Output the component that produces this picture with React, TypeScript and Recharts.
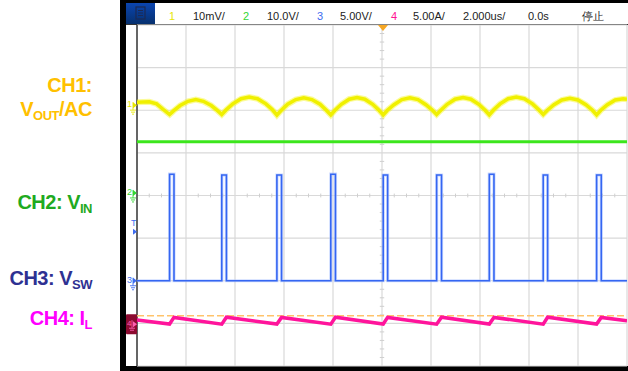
import React from 'react';
import { ComposedChart, Line, XAxis, YAxis, CartesianGrid, ReferenceLine, ReferenceDot } from 'recharts';

// time base 2 us/div, ten divisions across, eight down
const TIME_TICKS = [-10, -8, -6, -4, -2, 0, 2, 4, 6, 8, 10];
const DIV_TICKS = [-4, -3, -2, -1, 0, 1, 2, 3, 4];

// per channel: units per division and ground position (in divisions from centre)
const CH1_SCALE = 10; // mV/div
const CH1_GROUND = 2.12;
const CH2_SCALE = 10; // V/div
const CH2_GROUND = 0.06;
const CH3_SCALE = 5; // V/div
const CH3_GROUND = -2.0;
const CH4_SCALE = 5; // A/div
const CH4_GROUND = -3.02;

// switch node edges (us) and on-state level (V)
const SW_RISE = [-8.67, -6.54, -4.29, -2.09, 0.05, 2.23, 4.38, 6.58, 8.76];
const SW_FALL = [-8.49, -6.35, -4.1, -1.9, 0.23, 2.43, 4.57, 6.76, 8.95];
const SW_HIGH = [12.5, 12.4, 12.4, 12.5, 12.4, 12.4, 12.5, 12.4, 12.4];
const SW_TRIGGER = 5.75;

// inductor current at the start and end of each on-time (A)
const IL_VALLEY = [0.02, 0.0, 0.02, 0.0, 0.02, 0.0, 0.02, 0.0, 0.02];
const IL_PEAK = [0.8, 0.82, 0.8, 0.82, 0.8, 0.82, 0.8, 0.82, 0.8];
const IL_START = 0.5;
const IL_END = 0.42;
const IL_CURSOR = 1.0;

const VIN_LEVEL = 12.0;

// output ripple, AC coupled (t in us, mV)
const CH1_POINTS: [number, number][] = [
  [-10, 0.7], [-9.5, 0.8], [-9.2, 0.3], [-8.95, -0.9], [-8.67, -2.2],
  [-8.5, -1.3], [-8.24, -0.1], [-7.92, 0.9], [-7.6, 1.3], [-7.29, 0.9], [-6.97, -0.1], [-6.71, -1.3], [-6.54, -2.2],
  [-6.36, -1.1], [-6.09, 0.3], [-5.75, 1.5], [-5.42, 1.9], [-5.08, 1.5], [-4.74, 0.3], [-4.47, -1.1], [-4.29, -2.35],
  [-4.11, -1.2], [-3.85, 0.2], [-3.52, 1.3], [-3.19, 1.7], [-2.86, 1.3], [-2.53, 0.2], [-2.27, -1.2], [-2.09, -2.3],
  [-1.92, -1.2], [-1.66, 0.2], [-1.34, 1.4], [-1.02, 1.8], [-0.7, 1.4], [-0.38, 0.2], [-0.12, -1.2], [0.05, -2.3],
  [0.22, -1.2], [0.49, 0.1], [0.81, 1.3], [1.14, 1.7], [1.47, 1.3], [1.79, 0.1], [2.06, -1.2], [2.23, -2.2],
  [2.4, -1.2], [2.66, 0.2], [2.98, 1.4], [3.31, 1.8], [3.63, 1.4], [3.95, 0.2], [4.21, -1.2], [4.38, -2.3],
  [4.56, -1.1], [4.82, 0.3], [5.15, 1.5], [5.48, 1.9], [5.81, 1.5], [6.14, 0.3], [6.4, -1.1], [6.58, -2.2],
  [6.75, -1.2], [7.02, 0.1], [7.34, 1.2], [7.67, 1.6], [8.0, 1.2], [8.32, 0.1], [8.59, -1.2], [8.76, -2.3],
  [8.93, -1.2], [9.2, 0.1], [9.52, 1.2], [9.85, 1.5], [10, 1.4],
];

const HEADER = [
  { x: 169, text: '1', color: '#e6e600' },
  { x: 193, text: '10mV/', color: '#222' },
  { x: 243, text: '2', color: '#33d633' },
  { x: 267, text: '10.0V/', color: '#222' },
  { x: 317, text: '3', color: '#3d6cf0' },
  { x: 340, text: '5.00V/', color: '#222' },
  { x: 391, text: '4', color: '#ff1493' },
  { x: 413, text: '5.00A/', color: '#222' },
  { x: 463, text: '2.000us/', color: '#222' },
  { x: 528, text: '0.0s', color: '#222' },
  { x: 582, text: '停止', color: '#222' },
];

const ch1Data = CH1_POINTS.map(([t, v]) => ({ t, v }));
const ch2Data = [{ t: -10, v: VIN_LEVEL }, { t: 10, v: VIN_LEVEL }];

const ch3Data = [{ t: -10, v: 0 }];
SW_RISE.forEach((r, i) => {
  ch3Data.push({ t: r, v: 0 }, { t: r, v: SW_HIGH[i] }, { t: SW_FALL[i], v: SW_HIGH[i] }, { t: SW_FALL[i], v: 0 });
});
ch3Data.push({ t: 10, v: 0 });

const ch4Data = [{ t: -10, v: IL_START }];
SW_RISE.forEach((r, i) => {
  ch4Data.push({ t: r, v: IL_VALLEY[i] }, { t: SW_FALL[i], v: IL_PEAK[i] });
});
ch4Data.push({ t: 10, v: IL_END });

const domainOf = (scale: number, ground: number) => [(-4 - ground) * scale, (4 - ground) * scale];

const minorX = Array.from({ length: 41 }, (_, i) => -10 + i * 0.5).filter(t => t % 2 !== 0);
const minorY = Array.from({ length: 41 }, (_, i) => -4 + i * 0.2).filter(d => Math.abs(d - Math.round(d)) > 0.01);

const groundMarker = (label: string, color: string) => (props: any) => {
  const { cx, cy } = props;
  const x = cx - 10;
  return (
    <g>
      <text x={x} y={cy + 2} fontSize={9} fill={color} fontFamily="Liberation Sans, Arial">{label}</text>
      <path d={`M${x + 6} ${cy - 3} V${cy + 5} M${x + 3} ${cy + 5} H${x + 9} M${x + 4} ${cy + 7} H${x + 8} M${x + 5} ${cy + 9} H${x + 7}`} stroke={color} strokeWidth={0.9} fill="none" />
      <path d={`M${x + 6} ${cy} H${cx - 3}`} stroke={color} strokeWidth={0.9} />
      <path d={`M${cx - 4} ${cy - 3} L${cx} ${cy} L${cx - 4} ${cy + 3} Z`} fill={color} />
    </g>
  );
};

const ch4Marker = (props: any) => {
  const { cx, cy } = props;
  const x = cx - 11;
  return (
    <g>
      <rect x={x} y={cy - 10} width={11} height={20} fill="#8c0a30" rx={1} />
      <text x={x + 1} y={cy + 2} fontSize={8} fill="#ff5fb0" fontFamily="Liberation Sans, Arial">4</text>
      <path d={`M${x + 6} ${cy - 4} V${cy + 4} M${x + 3} ${cy + 4} H${x + 9} M${x + 4} ${cy + 6} H${x + 8}`} stroke="#ff5fb0" strokeWidth={0.9} />
      <path d={`M${cx - 4} ${cy - 3} L${cx} ${cy} L${cx - 4} ${cy + 3} Z`} fill="#ff5fb0" />
    </g>
  );
};

const triggerLevel = (props: any) => {
  const { cx, cy } = props;
  return (
    <g>
      <text x={cx - 6} y={cy - 6} fontSize={9} fill="#3d6cf0" fontFamily="Liberation Sans, Arial">T</text>
      <path d={`M${cx - 4} ${cy - 3} L${cx} ${cy} L${cx - 4} ${cy + 3} Z`} fill="#3d6cf0" />
    </g>
  );
};

const triggerTime = (props: any) => {
  const { cx, cy } = props;
  return <path d={`M${cx - 5} ${cy} L${cx + 5} ${cy} L${cx} ${cy + 6} Z`} fill="#f5a623" />;
};

const labelFont = { fontFamily: 'Liberation Sans, Arial, sans-serif', fontWeight: 700 } as const;

export default function App() {
  return (
    <div style={{ position: 'absolute', left: 0, top: 0, width: 628, height: 371, background: '#fff' }}>
      <svg width={628} height={371} style={{ position: 'absolute', left: 0, top: 0 }}>
        <rect x={120} y={0} width={508} height={371} fill="#000" />
        <rect x={126} y={3} width={502} height={363} fill="#fff" />
        <defs>
          <linearGradient id="menuBtn" x1="0" y1="0" x2="0" y2="1">
            <stop offset="0%" stopColor="#0b45b0" />
            <stop offset="100%" stopColor="#06306e" />
          </linearGradient>
        </defs>
        <rect x={126} y={3} width={29} height={21} fill="url(#menuBtn)" />
        <rect x={136} y={7} width={9} height={12} fill="none" stroke="#1b2a55" strokeWidth={1.2} />
        <path d="M138 10.5 H143 M138 13 H143 M138 15.5 H143" stroke="#1b2a55" strokeWidth={1} />
        <line x1={126} y1={24.5} x2={628} y2={24.5} stroke="#333" strokeWidth={1} />
        {HEADER.map(h => (
          <text key={h.x} x={h.x} y={20} fontSize={11} fill={h.color} fontFamily="Liberation Sans, Arial, sans-serif">{h.text}</text>
        ))}

        <text x={92} y={92} textAnchor="end" fontSize={20} fill="#ffc000" letterSpacing={-0.5} {...labelFont}>CH1:</text>
        <text x={92} y={116} textAnchor="end" fontSize={20} fill="#ffc000" letterSpacing={-0.5} {...labelFont}>
          V<tspan fontSize={13} dy={4}>OUT</tspan><tspan dy={-4}>/AC</tspan>
        </text>
        <text x={92} y={209} textAnchor="end" fontSize={20} fill="#1faa1f" letterSpacing={-0.5} {...labelFont}>
          CH2: V<tspan fontSize={13} dy={4}>IN</tspan>
        </text>
        <text x={92} y={285} textAnchor="end" fontSize={20} fill="#2e3192" letterSpacing={-0.5} {...labelFont}>
          CH3: V<tspan fontSize={13} dy={4}>SW</tspan>
        </text>
        <text x={92} y={325} textAnchor="end" fontSize={20} fill="#ff00ff" letterSpacing={-0.5} {...labelFont}>
          CH4: I<tspan fontSize={13} dy={4}>L</tspan>
        </text>
      </svg>

      <div style={{ position: 'absolute', left: 0, top: 0 }}>
        <ComposedChart width={628} height={371} margin={{ top: 25, right: 1, bottom: 5, left: 137 }}>
          <XAxis type="number" dataKey="t" domain={[-10, 10]} ticks={TIME_TICKS} hide allowDataOverflow />
          <YAxis yAxisId="div" type="number" domain={[-4, 4]} ticks={DIV_TICKS} hide allowDataOverflow />
          <YAxis yAxisId="ch1" type="number" domain={domainOf(CH1_SCALE, CH1_GROUND)} hide allowDataOverflow />
          <YAxis yAxisId="ch2" type="number" domain={domainOf(CH2_SCALE, CH2_GROUND)} hide allowDataOverflow />
          <YAxis yAxisId="ch3" type="number" domain={domainOf(CH3_SCALE, CH3_GROUND)} hide allowDataOverflow />
          <YAxis yAxisId="ch4" type="number" domain={domainOf(CH4_SCALE, CH4_GROUND)} hide allowDataOverflow />
          <CartesianGrid yAxisId="div" stroke="#d9d9d9" strokeWidth={1.2} />

          {minorX.map(t => (
            <ReferenceLine key={`mx${t}`} yAxisId="div" segment={[{ x: t, y: -0.045 }, { x: t, y: 0.045 }]} stroke="#cfcfcf" />
          ))}
          {minorY.map(d => (
            <ReferenceLine key={`my${d}`} yAxisId="div" segment={[{ x: -0.09, y: d }, { x: 0.09, y: d }]} stroke="#cfcfcf" />
          ))}
          <ReferenceLine yAxisId="div" x={-10} stroke="#3a3a3a" strokeWidth={1.5} />

          <ReferenceLine yAxisId="ch4" y={IL_CURSOR} stroke="#ffc36b" strokeWidth={1.4} strokeDasharray="7 3" />

          <Line yAxisId="ch2" data={ch2Data} dataKey="v" type="linear" stroke="#3ce61c" strokeWidth={3} dot={false} isAnimationActive={false} />
          <Line yAxisId="ch1" data={ch1Data} dataKey="v" type="linear" stroke="#f5f500" strokeOpacity={0.4} strokeWidth={6} dot={false} isAnimationActive={false} />
          <Line yAxisId="ch1" data={ch1Data} dataKey="v" type="linear" stroke="#f0f000" strokeWidth={3.5} dot={false} isAnimationActive={false} />
          <Line yAxisId="ch3" data={ch3Data} dataKey="v" type="linear" stroke="#a8c0ff" strokeWidth={3.2} strokeOpacity={0.55} dot={false} isAnimationActive={false} />
          <Line yAxisId="ch3" data={ch3Data} dataKey="v" type="linear" stroke="#3566f2" strokeWidth={1.6} dot={false} isAnimationActive={false} />
          <Line yAxisId="ch4" data={ch4Data} dataKey="v" type="linear" stroke="#ff149b" strokeWidth={3.5} dot={false} isAnimationActive={false} />

          <ReferenceDot yAxisId="ch1" x={-10} y={0} shape={groundMarker('1', '#e6e600')} ifOverflow="visible" />
          <ReferenceDot yAxisId="ch2" x={-10} y={0} shape={groundMarker('2', '#33d633')} ifOverflow="visible" />
          <ReferenceDot yAxisId="ch3" x={-10} y={0} shape={groundMarker('3', '#3d6cf0')} ifOverflow="visible" />
          <ReferenceDot yAxisId="ch3" x={-10} y={SW_TRIGGER} shape={triggerLevel} ifOverflow="visible" />
          <ReferenceDot yAxisId="ch4" x={-10} y={0} shape={ch4Marker} ifOverflow="visible" />
          <ReferenceDot yAxisId="div" x={0.04} y={4} shape={triggerTime} ifOverflow="visible" />
        </ComposedChart>
      </div>
    </div>
  );
}
